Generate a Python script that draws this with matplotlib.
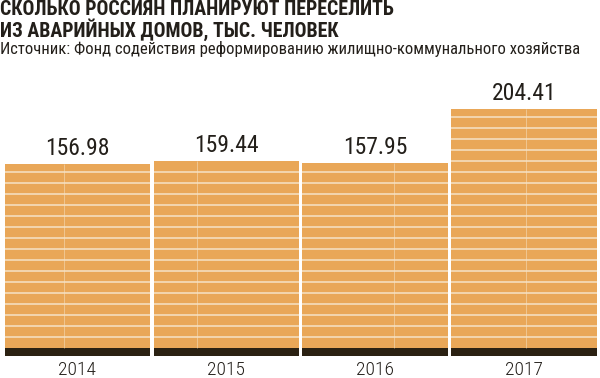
import matplotlib
matplotlib.use("Agg")
import matplotlib.pyplot as plt
from matplotlib import font_manager as fm

# ---- data ----
years = ["2014", "2015", "2016", "2017"]
values = [156.98, 159.44, 157.95, 204.41]
value_labels = ["156.98", "159.44", "157.95", "204.41"]
title = "СКОЛЬКО РОССИЯН ПЛАНИРУЮТ ПЕРЕСЕЛИТЬ\nИЗ АВАРИЙНЫХ ДОМОВ, ТЫС. ЧЕЛОВЕК"
source = "Источник: Фонд содействия реформированию жилищно-коммунального хозяйства"

# ---- style ----
names = {f.name for f in fm.fontManager.ttflist}
narrow = None
for cand in ["Roboto Condensed", "Liberation Sans Narrow", "Open Sans Condensed", "DejaVu Sans"]:
    if cand in names:
        narrow = cand
        break
stretch = "condensed"
BAR = "#E9A758"
LINE = "#F6E3C6"
DARK = "#2B2112"
TEXT = "#231F1A"
brick_step = 9.4
seam_offsets = [-0.087, -0.20, 0.127, 0.013]

fig = plt.figure(figsize=(6, 3.78), dpi=100)
ax = fig.add_axes([0.005, 22 / 378, 0.9925, 256 / 378])
px = 1.17
ax.set_ylim(-8 / px, 256 / px - 8 / px)
ax.set_xlim(-0.5, 3.5)

width = 0.977
x = list(range(len(years)))
ax.bar(x, values, width=width, color=BAR, zorder=2, linewidth=0)
ax.bar(x, [-8 / px] * len(x), width=width, color=DARK, zorder=2, linewidth=0)

for i, v in enumerate(values):
    left, right = i - width / 2, i + width / 2
    k = 1
    while k * brick_step < v - 2:
        ax.hlines(k * brick_step, left, right, colors=LINE, linewidth=1.1, zorder=3)
        k += 1
    ax.vlines(i + seam_offsets[i], 0, v, colors=LINE, linewidth=0.6, alpha=0.6, zorder=3)
    ax.text(i, v + 4 / px, value_labels[i], ha="center", va="bottom",
            fontsize=17, color=TEXT, family=narrow, fontstretch=stretch, zorder=4)
    ax.text(i, -13 / px, years[i], ha="center", va="top",
            fontsize=14, color=TEXT, family=narrow, fontstretch=stretch, fontweight="light")

ax.axis("off")

fig.text(0.0, 1 - 0 / 378, title, ha="left", va="top", fontsize=14.3,
         fontweight="bold", color=TEXT, family=narrow, fontstretch=stretch, linespacing=0.98)
fig.text(0.0, 1 - 41 / 378, source, ha="left", va="top", fontsize=12,
         color=TEXT, family=narrow, fontstretch=stretch)

fig.savefig("out.png", dpi=100)
